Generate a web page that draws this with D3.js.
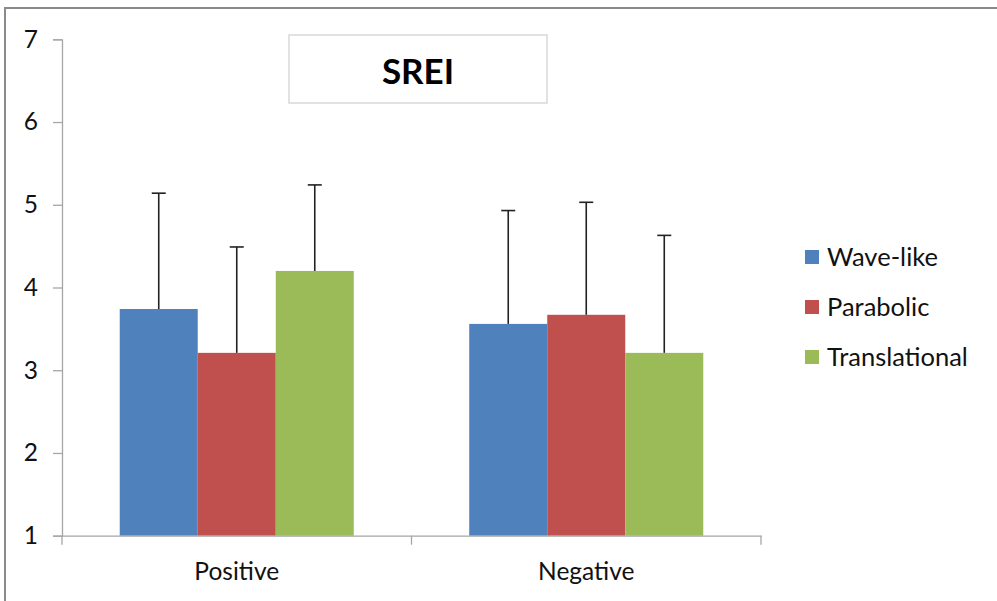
<!DOCTYPE html>
<html><head><meta charset="utf-8">
<script src="https://cdn.jsdelivr.net/npm/d3@7"></script>
<style>body{margin:0;background:#fff}svg{display:block}</style>
</head><body>
<script>
const categories = ["Positive", "Negative"];
const seriesNames = ["Wave-like", "Parabolic", "Translational"];
const waveLike = [3.74, 3.56];
const parabolic = [3.21, 3.67];
const translational = [4.20, 3.21];
const waveLikeErr = [1.40, 1.37];
const parabolicErr = [1.28, 1.36];
const translationalErr = [1.04, 1.42];
const yTicks = [1, 2, 3, 4, 5, 6, 7];
const colors = ["#4F81BD", "#C0504D", "#9BBB59"];
const title = "SREI";

const values = [waveLike, parabolic, translational];
const errs = [waveLikeErr, parabolicErr, translationalErr];
const font = "Lato, 'Noto Sans', sans-serif";

const W = 997, H = 601;
const svg = d3.select("body").append("svg").attr("width", W).attr("height", H);

// outer border
svg.append("rect").attr("x", 5).attr("y", 8).attr("width", 1100).attr("height", 700)
  .attr("fill", "none").attr("stroke", "#8a8a8a").attr("stroke-width", 2);

const x0 = d3.scaleBand().domain(categories).range([62, 761]).paddingInner(0).paddingOuter(0);
const x1 = d3.scaleBand().domain(seriesNames).range([0, x0.bandwidth()]).paddingInner(0).paddingOuter(0.74);
const y = d3.scaleLinear().domain([1, 7]).range([535.7, 39.3]);

// bars
const data = [];
seriesNames.forEach((s, i) => categories.forEach((c, j) => data.push({s, c, v: values[i][j], e: errs[i][j], col: colors[i]})));

svg.append("g").selectAll("rect").data(data).join("rect")
  .attr("x", d => x0(d.c) + x1(d.s))
  .attr("y", d => y(d.v))
  .attr("width", x1.bandwidth())
  .attr("height", d => y(1) - y(d.v))
  .attr("fill", d => d.col);

// error bars
const eg = svg.append("g").attr("stroke", "#222").attr("stroke-width", 1.6);
data.forEach(d => {
  const cx = x0(d.c) + x1(d.s) + x1.bandwidth() / 2;
  eg.append("line").attr("x1", cx).attr("x2", cx).attr("y1", y(d.v)).attr("y2", y(d.v + d.e));
  eg.append("line").attr("x1", cx - 7).attr("x2", cx + 7).attr("y1", y(d.v + d.e)).attr("y2", y(d.v + d.e));
});

// y axis
const yAxis = d3.axisLeft(y).tickValues(yTicks).tickSize(9).tickPadding(15).tickFormat(d3.format("d"));
const gy = svg.append("g").attr("transform", "translate(62,0)").call(yAxis);
gy.select(".domain").attr("stroke", "#a6a6a6").attr("stroke-width", 1.3);
gy.selectAll(".tick line").attr("stroke", "#a6a6a6").attr("stroke-width", 1.3);
gy.selectAll(".tick text").attr("font-family", font).attr("font-size", 24.5).attr("fill", "#111");

// x axis
const xAxis = d3.axisBottom(x0).tickSize(0).tickPadding(27);
const gx = svg.append("g").attr("transform", `translate(0,${y(1)})`).call(xAxis);
gx.select(".domain").attr("stroke", "#a6a6a6").attr("stroke-width", 1.3);
gx.selectAll(".tick text").attr("font-family", font).attr("font-size", 24.5).attr("fill", "#111");
// category boundary ticks
const bounds = [x0.range()[0], ...categories.map(c => x0(c) + x0.bandwidth())];
gx.selectAll(".bt").data(bounds).join("line").attr("class", "bt")
  .attr("x1", d => d).attr("x2", d => d).attr("y1", 0).attr("y2", 9)
  .attr("stroke", "#a6a6a6").attr("stroke-width", 1.3);

// title box
svg.append("rect").attr("x", 289).attr("y", 35).attr("width", 258).attr("height", 68)
  .attr("fill", "#fff").attr("stroke", "#d9d9d9").attr("stroke-width", 1.5);
svg.append("text").attr("x", 418).attr("y", 84).attr("text-anchor", "middle")
  .attr("font-family", font).attr("font-weight", "bold").attr("font-size", 35).attr("fill", "#000").text(title);

// legend
const lg = svg.append("g");
seriesNames.forEach((s, i) => {
  const cy = 257 + i * 50;
  lg.append("rect").attr("x", 805).attr("y", cy - 7).attr("width", 14).attr("height", 14).attr("fill", colors[i]);
  lg.append("text").attr("x", 827).attr("y", cy).attr("dy", "0.35em")
    .attr("font-family", font).attr("font-size", 25.5).attr("fill", "#111").text(s);
});
</script>
</body></html>
